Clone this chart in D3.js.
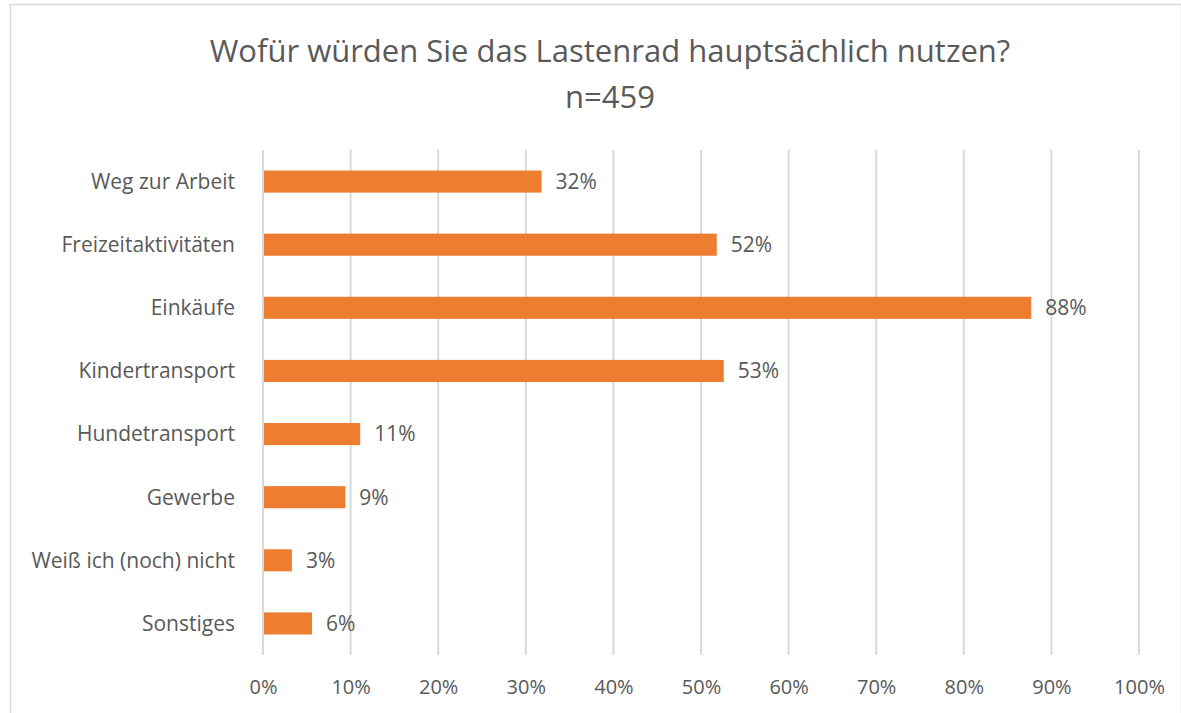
<!DOCTYPE html>
<html>
<head>
<meta charset="utf-8">
<script src="https://cdn.jsdelivr.net/npm/d3@7"></script>
<style>
  body { margin: 0; background: #fff; }
  svg text { font-family: "Open Sans", "Liberation Sans", sans-serif; fill: #595959; }
</style>
</head>
<body>
<script>
const categories = ["Weg zur Arbeit", "Freizeitaktivitäten", "Einkäufe", "Kindertransport",
  "Hundetransport", "Gewerbe", "Weiß ich (noch) nicht", "Sonstiges"]
const values = [31.8, 51.8, 87.7, 52.6, 11.1, 9.4, 3.3, 5.6]
const xTicks = [0, 10, 20, 30, 40, 50, 60, 70, 80, 90, 100]
const title = "Wofür würden Sie das Lastenrad hauptsächlich nutzen?"
const subtitle = "n=459"

const w = 1181
const h = 713
const plotLeft = 263, plotRight = 1139, plotTop = 150, plotBottom = 655

const svg = d3.select("body").append("svg")
  .attr("width", w)
  .attr("height", h)

// chart frame
svg.append("rect")
  .attr("x", 10.5).attr("y", 4.5)
  .attr("width", w - 10).attr("height", h)
  .attr("fill", "none")
  .attr("stroke", "#d9d9d9")
  .attr("stroke-width", 1.5)

const xScale = d3.scaleLinear().domain([0, 100]).range([plotLeft, plotRight])
const yScale = d3.scaleBand().domain(categories).range([plotTop, plotBottom]).paddingInner(0.65).paddingOuter(0.325)

// gridlines
svg.selectAll(".grid")
  .data(xTicks)
  .enter()
  .append("line")
  .attr("x1", d => xScale(d)).attr("x2", d => xScale(d))
  .attr("y1", plotTop).attr("y2", plotBottom)
  .attr("stroke", "#d9d9d9")
  .attr("stroke-width", 2)

svg.selectAll(".bar")
  .data(values)
  .enter()
  .append("rect")
  .attr("x", xScale(0) + 1)
  .attr("y", (d, i) => yScale(categories[i]))
  .attr("width", d => xScale(d) - xScale(0) - 1)
  .attr("height", yScale.bandwidth())
  .attr("fill", "#ed7d31")

svg.selectAll(".val")
  .data(values)
  .enter()
  .append("text")
  .attr("x", d => xScale(d) + 14)
  .attr("y", (d, i) => yScale(categories[i]) + yScale.bandwidth() / 2)
  .attr("dy", "0.35em")
  .style("font-size", "21px")
  .text(d => Math.round(d) + "%")

// category labels
svg.selectAll(".cat")
  .data(categories)
  .enter()
  .append("text")
  .attr("x", plotLeft - 28)
  .attr("y", d => yScale(d) + yScale.bandwidth() / 2)
  .attr("dy", "0.35em")
  .attr("text-anchor", "end")
  .style("font-size", "21px")
  .text(d => d)

// x axis labels
const xAxis = d3.axisBottom(xScale)
  .tickValues(xTicks)
  .tickSize(0)
  .tickPadding(0)
  .tickFormat(d => d + "%")
const gx = svg.append("g")
  .attr("transform", "translate(0," + 687 + ")")
  .call(xAxis)
gx.select(".domain").remove()
gx.selectAll("text")
  .attr("dy", "0.35em")
  .attr("y", 0)
  .style("font-size", "20px")
  .style("font-family", "\"Open Sans\", sans-serif")
  .attr("fill", "#595959")

svg.append("text")
  .attr("x", 610).attr("y", 62)
  .attr("text-anchor", "middle")
  .style("font-size", "31px")
  .text(title)
svg.append("text")
  .attr("x", 610).attr("y", 108)
  .attr("text-anchor", "middle")
  .style("font-size", "31px")
  .text(subtitle)
</script>
</body>
</html>
